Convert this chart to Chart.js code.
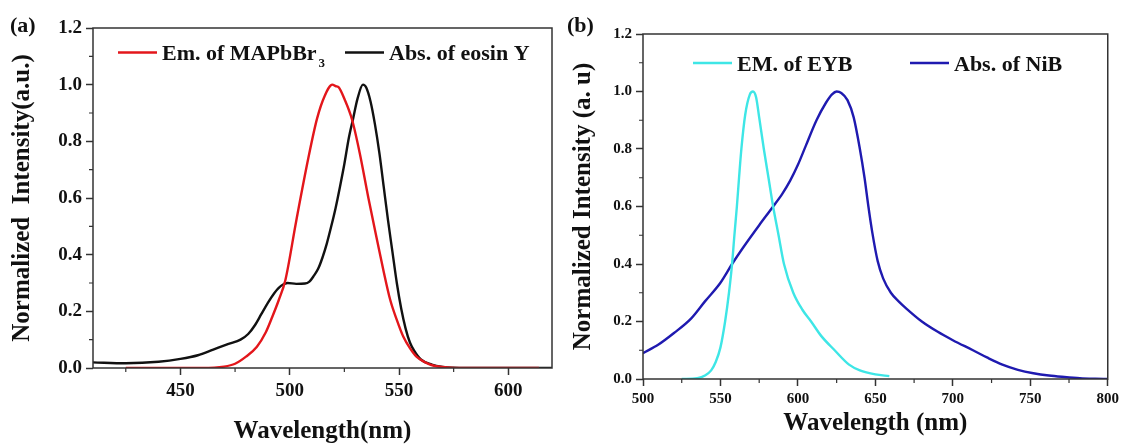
<!DOCTYPE html>
<html>
<head>
<meta charset="utf-8">
<script src="https://cdn.jsdelivr.net/npm/chart.js@4.4.1/dist/chart.umd.min.js"></script>
<style>
  body { margin: 0; background: #fff; }
  #wrap { position: relative; width: 1123px; height: 445px; overflow: hidden; }
  canvas { position: absolute; top: 0; }
  .tag { position: absolute; font: bold 22px 'Liberation Serif', 'Times New Roman', serif; line-height: 26px; color: #111; }
</style>
</head>
<body>
<div id="wrap">
  <canvas id="chartA" width="560" height="445" style="left:0"></canvas>
  <canvas id="chartB" width="563" height="445" style="left:560px"></canvas>
  <div class="tag" style="left:10px;top:12px">(a)</div>
  <div class="tag" style="left:567px;top:12px">(b)</div>
</div>
<script>
// (a) emission of MAPbBr3 vs absorption of eosin Y
const emMapbWl = [425, 460, 470, 475, 480, 485, 489, 492, 495, 498, 503, 508.5, 512.5, 516, 519.5, 521, 522.5, 525, 528.5, 532, 536, 540, 543, 546, 549, 552, 555, 558, 562, 566, 572, 580, 614];
const emMapbI  = [0, 0, 0.005, 0.015, 0.04, 0.075, 0.125, 0.18, 0.24, 0.31, 0.52, 0.74, 0.88, 0.96, 1.0, 0.995, 0.99, 0.95, 0.877, 0.76, 0.6, 0.45, 0.34, 0.24, 0.17, 0.11, 0.07, 0.04, 0.02, 0.008, 0.002, 0, 0];
const absEosinWl = [410, 425, 440, 450, 458, 465, 472, 477.5, 481, 484, 487, 490, 493, 496, 499, 503, 507, 509, 511, 513, 515, 517, 519, 521, 523, 525, 527, 529, 531, 533.5, 535, 537, 539, 541, 543, 545, 547, 549, 551, 553, 555, 557, 560, 565, 570, 575, 580, 620];
const absEosinI  = [0.02, 0.017, 0.022, 0.032, 0.045, 0.065, 0.085, 0.10, 0.12, 0.15, 0.19, 0.23, 0.265, 0.29, 0.30, 0.297, 0.298, 0.305, 0.325, 0.35, 0.39, 0.44, 0.5, 0.565, 0.64, 0.72, 0.81, 0.88, 0.95, 1.0, 0.99, 0.94, 0.86, 0.76, 0.64, 0.52, 0.41, 0.3, 0.21, 0.14, 0.09, 0.06, 0.03, 0.012, 0.004, 0.001, 0, 0];

// (b) emission of EYB vs absorption of NiB
const emEybWl = [525, 535, 540, 544, 547, 550, 553, 555.5, 557.5, 559, 560.6, 562, 563.5, 566, 569, 571, 573, 575, 578, 581, 584, 587.5, 591, 597, 603, 608.5, 615, 623.7, 633, 640, 650, 659];
const emEybI  = [0, 0.003, 0.012, 0.03, 0.06, 0.11, 0.2, 0.3, 0.4, 0.5, 0.6, 0.7, 0.8, 0.92, 0.99, 1.0, 0.98, 0.91, 0.8, 0.7, 0.6, 0.5, 0.4, 0.3, 0.24, 0.2, 0.15, 0.1, 0.05, 0.03, 0.016, 0.01];
const absNibWl = [500, 510, 520, 531, 540, 550, 557.5, 565, 575, 584, 590, 595, 600, 605, 612, 618, 622, 625, 628, 632, 636, 640, 643, 645.5, 648, 651.5, 655, 660, 665, 670, 680, 690, 700, 713, 722, 732, 742, 752, 762, 772, 782, 792, 800];
const absNibI  = [0.09, 0.12, 0.16, 0.21, 0.27, 0.335, 0.4, 0.46, 0.535, 0.6, 0.645, 0.69, 0.745, 0.81, 0.9, 0.96, 0.99, 1.0, 0.995, 0.97, 0.91, 0.8, 0.7, 0.6, 0.51, 0.41, 0.35, 0.3, 0.27, 0.245, 0.2, 0.165, 0.135, 0.1, 0.075, 0.05, 0.032, 0.02, 0.012, 0.007, 0.003, 0.001, 0];

// axis ticks
const yTicks = [0, 0.2, 0.4, 0.6, 0.8, 1.0, 1.2];
const yMinor = [0.1, 0.3, 0.5, 0.7, 0.9, 1.1];
const xTicksA = [450, 500, 550, 600];
const xMinorA = [425, 475, 525, 575];
const xTicksB = [500, 550, 600, 650, 700, 750, 800];
const xMinorB = [525, 575, 625, 675, 725, 775];

const FONT = "'Liberation Serif', 'Times New Roman', serif";
const AXIS = '#333';

function toPoints(xs, ys) {
  return xs.map((x, i) => ({ x, y: ys[i] }));
}

// closed box round the plot plus the short minor ticks
const frameAndMinor = {
  id: 'frameAndMinor',
  afterDatasetsDraw(chart, args, opts) {
    const { ctx, chartArea: ca, scales: { x, y } } = chart;
    ctx.save();
    ctx.strokeStyle = AXIS;
    ctx.lineWidth = 1.5;
    ctx.strokeRect(ca.left, ca.top, ca.right - ca.left, ca.bottom - ca.top);
    ctx.lineWidth = 1.2;
    ctx.beginPath();
    opts.xMinor.forEach(v => {
      const px = x.getPixelForValue(v);
      ctx.moveTo(px, ca.bottom);
      ctx.lineTo(px, ca.bottom + 4);
    });
    opts.yMinor.forEach(v => {
      const py = y.getPixelForValue(v);
      ctx.moveTo(ca.left, py);
      ctx.lineTo(ca.left - 4, py);
    });
    ctx.stroke();
    ctx.restore();
  }
};

// legend drawn inside the plot, with optional subscript
const lineLegend = {
  id: 'lineLegend',
  afterDraw(chart, args, opts) {
    const { ctx, chartArea: ca } = chart;
    ctx.save();
    opts.items.forEach(it => {
      const x0 = ca.left + it.dx, y0 = ca.top + it.dy;
      ctx.strokeStyle = it.color;
      ctx.lineWidth = 2.5;
      ctx.beginPath();
      ctx.moveTo(x0, y0);
      ctx.lineTo(x0 + 39, y0);
      ctx.stroke();
      ctx.fillStyle = '#111';
      ctx.font = 'bold 22px ' + FONT;
      ctx.textBaseline = 'alphabetic';
      const tx = x0 + 44, ty = y0 + 7.5;
      ctx.fillText(it.text, tx, ty);
      if (it.sub) {
        const w = ctx.measureText(it.text).width;
        ctx.font = 'bold 13px ' + FONT;
        ctx.fillText(it.sub, tx + w + 2, ty + 7);
      }
    });
    ctx.restore();
  }
};

function buildChart(id, cfg) {
  return new Chart(document.getElementById(id), {
    type: 'line',
    data: {
      datasets: cfg.series.map(s => ({
        label: s.label,
        data: s.data,
        borderColor: s.color,
        borderWidth: 2.4,
        pointRadius: 0,
        cubicInterpolationMode: 'monotone',
        fill: false
      }))
    },
    options: {
      responsive: false,
      animation: false,
      devicePixelRatio: 1,
      layout: { padding: cfg.padding },
      plugins: {
        legend: { display: false },
        tooltip: { enabled: false },
        frameAndMinor: { xMinor: cfg.xMinor, yMinor: yMinor },
        lineLegend: { items: cfg.legend }
      },
      scales: {
        x: {
          type: 'linear',
          min: cfg.xMin,
          max: cfg.xMax,
          afterBuildTicks: s => { s.ticks = cfg.xTicks.map(v => ({ value: v })); },
          afterFit: s => { s.height = cfg.xHeight; },
          border: { display: false },
          grid: { drawOnChartArea: false, tickLength: 7, tickColor: AXIS, tickWidth: 1.5 },
          ticks: {
            autoSkip: false, maxRotation: 0, padding: cfg.xTickPad, color: '#111',
            font: { family: FONT, size: cfg.tickSize, weight: 'bold' },
            callback: v => String(v)
          },
          title: {
            display: true, text: cfg.xTitle, color: '#111',
            font: { family: FONT, size: 25, weight: 'bold', lineHeight: 1 },
            padding: { top: 0, bottom: cfg.xTitlePad }
          }
        },
        y: {
          min: 0,
          max: 1.2,
          afterBuildTicks: s => { s.ticks = yTicks.map(v => ({ value: v })); },
          afterFit: s => { s.width = cfg.yWidth; },
          border: { display: false },
          grid: { drawOnChartArea: false, tickLength: 7, tickColor: AXIS, tickWidth: 1.5 },
          ticks: {
            padding: 4, color: '#111',
            font: { family: FONT, size: cfg.tickSize, weight: 'bold' },
            callback: v => v.toFixed(1)
          },
          title: {
            display: true, text: cfg.yTitle, color: '#111',
            font: { family: FONT, size: 25, weight: 'bold', lineHeight: 1 },
            padding: { top: cfg.yTitlePad, bottom: 0 }
          }
        }
      }
    },
    plugins: [frameAndMinor, lineLegend]
  });
}

buildChart('chartA', {
  series: [
    { label: 'Em. of MAPbBr3', data: toPoints(emMapbWl, emMapbI), color: '#e3161b' },
    { label: 'Abs. of eosin Y', data: toPoints(absEosinWl, absEosinI), color: '#111111' }
  ],
  legend: [
    { text: 'Em. of MAPbBr', sub: '3', color: '#e3161b', dx: 25, dy: 24.5 },
    { text: 'Abs. of eosin Y', color: '#111111', dx: 252, dy: 24.5 }
  ],
  padding: { left: 0, top: 28, right: 8, bottom: 0 },
  xMin: 410, xMax: 620,
  xTicks: xTicksA, xMinor: xMinorA,
  xHeight: 77, yWidth: 93,
  tickSize: 19, xTickPad: 5,
  xTitle: 'Wavelength(nm)', xTitlePad: 1,
  yTitle: 'Normalized  Intensity(a.u.)', yTitlePad: 10.5
});

buildChart('chartB', {
  series: [
    { label: 'EM. of EYB', data: toPoints(emEybWl, emEybI), color: '#3ee6e6' },
    { label: 'Abs. of NiB', data: toPoints(absNibWl, absNibI), color: '#1f1ab0' }
  ],
  legend: [
    { text: 'EM. of EYB', color: '#3ee6e6', dx: 50, dy: 29 },
    { text: 'Abs. of NiB', color: '#1f1ab0', dx: 267, dy: 29 }
  ],
  padding: { left: 0, top: 34, right: 15, bottom: 0 },
  xMin: 500, xMax: 800,
  xTicks: xTicksB, xMinor: xMinorB,
  xHeight: 66, yWidth: 83,
  tickSize: 15, xTickPad: 4,
  xTitle: 'Wavelength (nm)', xTitlePad: 9,
  yTitle: 'Normalized Intensity (a. u)', yTitlePad: 11.5
});
</script>
</body>
</html>
